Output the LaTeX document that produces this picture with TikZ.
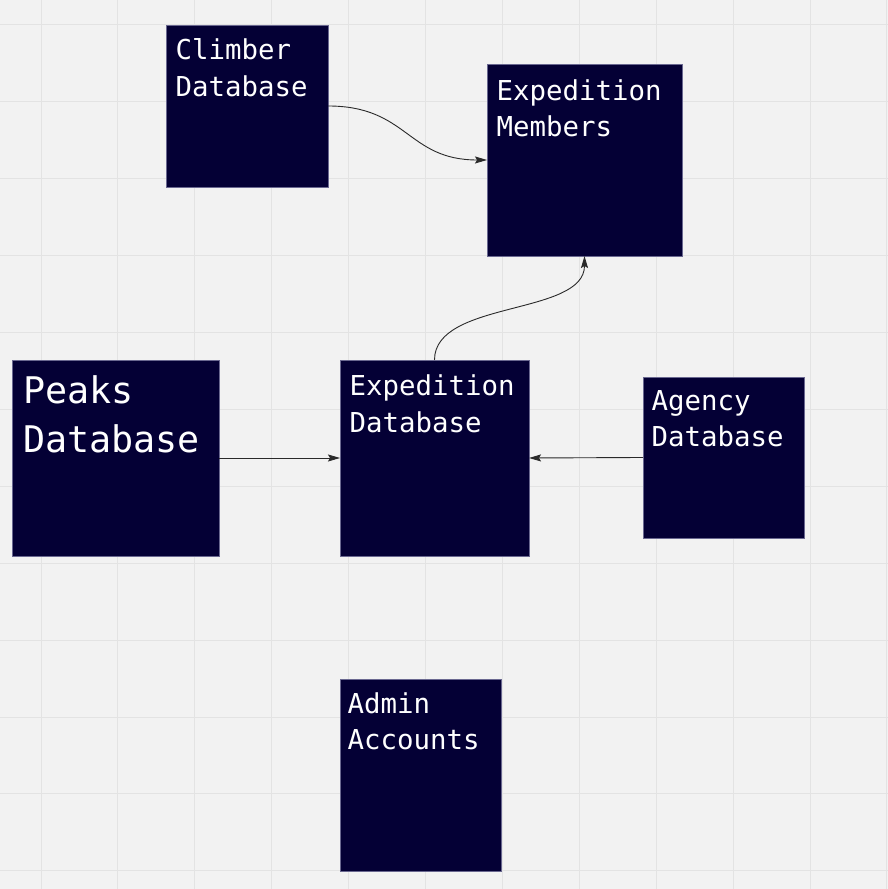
\documentclass[tikz,border=0pt]{standalone}
\usepackage{fontspec}
\setmonofont{DejaVu Sans Mono}
\usetikzlibrary{arrows.meta}
\definecolor{bg}{HTML}{F2F2F2}
\definecolor{gridc}{HTML}{E3E3E3}
\definecolor{boxfill}{HTML}{040035}
\definecolor{boxline}{HTML}{6A6890}
\definecolor{wire}{HTML}{2A2A2A}
\begin{document}
\begin{tikzpicture}[x=1pt,y=1pt,
  box/.style={draw=boxline, line width=0.9pt, fill=boxfill, inner sep=0pt, outer sep=0pt, anchor=north west},
  lbl/.style={text=white, font=\ttfamily\fontsize{27.4}{36}\selectfont, inner sep=0pt, anchor=base west},
  biglbl/.style={text=white, font=\ttfamily\fontsize{36.7}{49}\selectfont, inner sep=0pt, anchor=base west},
  link/.style={draw=wire, line width=0.9pt, -{Stealth[length=12pt,width=7pt,inset=2pt]}},
  gridline/.style={draw=gridc, line width=1pt}
]
\fill[bg] (0,0) rectangle (888,889);
\useasboundingbox (0,0) rectangle (888,889);
\foreach \i in {0,...,11} {
  \draw[gridline] ({41+76.9*\i},0) -- ++(0,889);
  \draw[gridline] (0,{864-76.9*\i}) -- ++(888,0);
}
% boxes
\node[box, minimum width=162, minimum height=162] (climber) at (166,864) {};
\node[box, minimum width=195, minimum height=192] (members) at (487,825) {};
\node[box, minimum width=207, minimum height=196] (peaks) at (12,529) {};
\node[box, minimum width=189, minimum height=196] (expdb) at (340,529) {};
\node[box, minimum width=161, minimum height=161] (agency) at (643,512) {};
\node[box, minimum width=161, minimum height=192] (admin) at (340,210) {};
% labels
\node[lbl] (climber1) at (175.5,829) {Climber};
\node[lbl] (climber2) at (175.5,792) {Database};
\node[lbl] (members1) at (496.5,788) {Expedition};
\node[lbl] (members2) at (496.5,752) {Members};
\node[biglbl] (peaks1) at (23,485) {Peaks};
\node[biglbl] (peaks2) at (23,436) {Database};
\node[lbl] (expdb1) at (349.5,493) {Expedition};
\node[lbl] (expdb2) at (349.5,456) {Database};
\node[lbl] (agency1) at (651.5,478) {Agency};
\node[lbl] (agency2) at (651.5,442) {Database};
\node[lbl] (admin1) at (347.5,175) {Admin};
\node[lbl] (admin2) at (347.5,139) {Accounts};
% connectors
\draw[link] (climber.east) .. controls +(80,0) and +(-80,0) .. (members.west);
\draw[link] (expdb.north) .. controls +(0,60) and +(0,-60) .. (members.south);
\draw[link] (peaks.east) -- (expdb.west);
\draw[link] (agency.west) -- (expdb.east);
\end{tikzpicture}
\end{document}
